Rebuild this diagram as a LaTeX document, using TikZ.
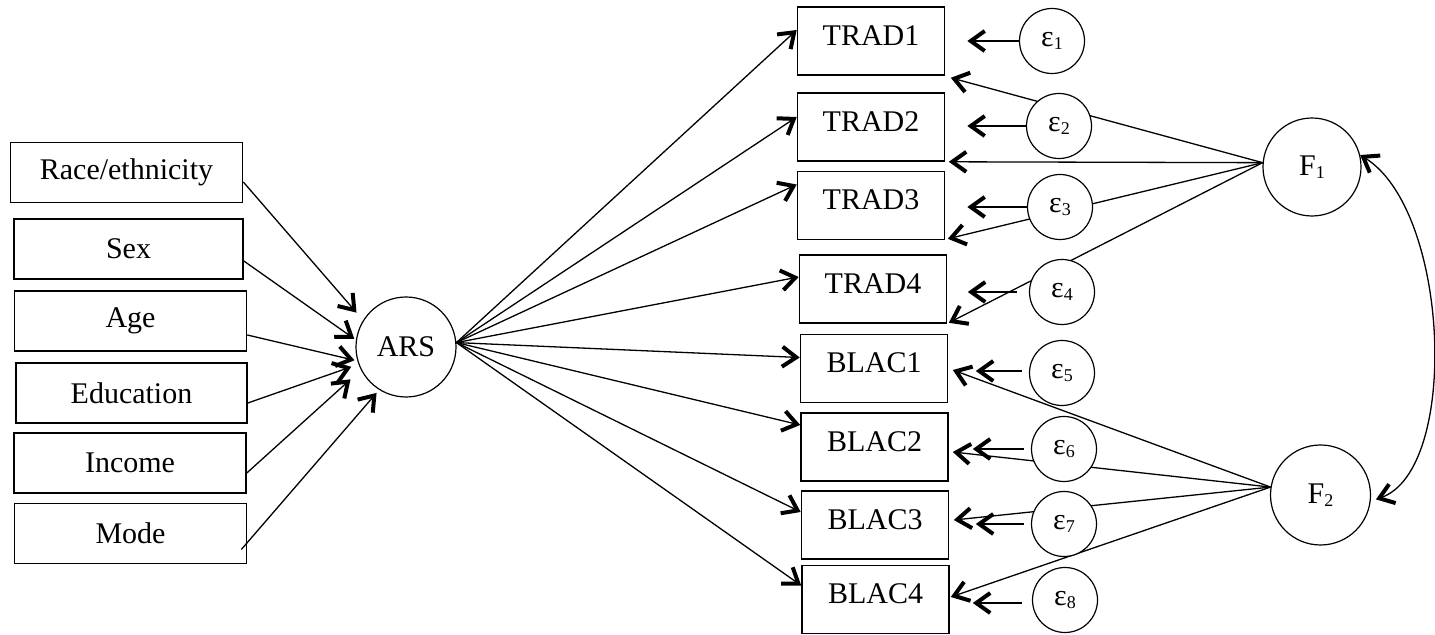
\documentclass[tikz,border=0pt]{standalone}
\usepackage{fontspec}
\setmainfont{Liberation Serif}
\usetikzlibrary{arrows.meta,backgrounds}
\newcommand\lowsub[1]{\raisebox{-1.5pt}{\fontsize{9}{9}\selectfont #1}}
\begin{document}
\begin{tikzpicture}[x=0.5pt,y=-0.5pt,
  font=\fontsize{15}{18}\selectfont,
  inbox/.style={draw, line width=0.8pt, minimum width=116pt, minimum height=30pt, inner sep=0pt},
  outbox/.style={draw, line width=0.8pt, minimum width=73.5pt, minimum height=34pt, inner sep=0pt, text depth=5.5pt},
  latent/.style={draw, circle, line width=0.6pt, fill=white, inner sep=0pt},
  errc/.style={latent, minimum size=32.5pt},
  tipb/.tip={Straight Barb[length=7pt,width=10pt,line width=2pt]},
  arr/.style={line width=0.65pt, -tipb},
  dbl/.style={line width=0.65pt, tipb-tipb}
]
\useasboundingbox (0,0) rectangle (1435,635);

% exogenous boxes
\node[inbox] (race) at (126.5,172.5) {Race/ethnicity};
\node[inbox, minimum width=114.5pt] (sex) at (128.5,249) {Sex};
\node[inbox] (age) at (130.5,321) {Age};
\node[inbox, minimum width=115.5pt] (edu) at (131.5,393) {Education};
\node[inbox] (inc) at (130,463) {Income};
\node[inbox] (mode) at (130.5,533.5) {Mode};

% ARS
\node[latent, minimum size=50pt] (ARS) at (406,347) {ARS};

% indicator boxes
\node[outbox] (TRAD1) at (871,41) {TRAD1};
\node[outbox] (TRAD2) at (871,127) {TRAD2};
\node[outbox] (TRAD3) at (871,205.5) {TRAD3};
\node[outbox] (TRAD4) at (873,289) {TRAD4};
\node[outbox] (BLAC1) at (874,368.5) {BLAC1};
\node[outbox] (BLAC2) at (874.5,447) {BLAC2};
\node[outbox] (BLAC3) at (875,525) {BLAC3};
\node[outbox] (BLAC4) at (875.5,599.5) {BLAC4};

% error terms
\node[errc] (e1) at (1052,41) {ε\lowsub{1}};
\node[errc] (e2) at (1059,126) {ε\lowsub{2}};
\node[errc] (e3) at (1060,207) {ε\lowsub{3}};
\node[errc] (e4) at (1062,292) {ε\lowsub{4}};
\node[errc] (e5) at (1062,373) {ε\lowsub{5}};
\node[errc] (e6) at (1064,449) {ε\lowsub{6}};
\node[errc] (e7) at (1064,524) {ε\lowsub{7}};
\node[errc] (e8) at (1065,600) {ε\lowsub{8}};

% factors
\node[latent, minimum size=49pt] (F1) at (1312,167) {F\lowsub{1}};
\node[latent, minimum size=50pt] (F2) at (1320.5,495) {F\lowsub{2}};

% covariates -> ARS
\draw[arr, shorten >=5pt] ([yshift=-4.75pt]race.east) -- (ARS.148);
\draw[arr, shorten >=1pt] ([yshift=-6pt]sex.east) -- (ARS.172);
\draw[arr, shorten >=1.5pt] ([yshift=-7pt]age.east) -- (ARS.196);
\draw[arr, shorten >=3.8pt] ([yshift=-5pt]edu.east) -- (ARS.200);
\draw[arr, shorten >=7pt] ([yshift=-5pt]inc.east) -- (ARS.207);
\draw[arr, shorten >=2pt] ([xshift=-3pt,yshift=-8pt]mode.east) -- (ARS.238);

% ARS -> indicators
\draw[arr] (ARS.5) -- ([yshift=5.5pt]TRAD1.west);
\draw[arr] (ARS.5) -- ([yshift=5pt]TRAD2.west);
\draw[arr] (ARS.5) -- ([yshift=10.5pt]TRAD3.west);
\draw[arr] (ARS.5) -- ([yshift=6pt]TRAD4.west);
\draw[arr] (ARS.5) -- ([yshift=5.5pt]BLAC1.west);
\draw[arr] (ARS.5) -- ([yshift=11pt]BLAC2.west);
\draw[arr] (ARS.5) -- ([yshift=6.5pt]BLAC3.west);
\draw[arr] (ARS.5) -- ([yshift=7pt]BLAC4.west);

% error tips
\coordinate (t1) at ([xshift=11pt]TRAD1.east);
\coordinate (t2) at ([xshift=11pt]TRAD2.east);
\coordinate (t3) at ([xshift=11pt]TRAD3.east);
\coordinate (t4) at ([xshift=10.25pt]TRAD4.east);
\coordinate (t5) at ([xshift=13.75pt]BLAC1.east);
\coordinate (t6) at ([xshift=12pt]BLAC2.east);
\coordinate (t7) at ([xshift=13.25pt]BLAC3.east);
\coordinate (t8) at ([xshift=11.5pt]BLAC4.east);
\coordinate (s5) at ([yshift=1pt]e5.west);
\coordinate (s8) at ([yshift=-1.5pt]e8.west);

\draw[arr] (e1.west) -- (t1 |- e1.west);
\draw[arr] (e2.west) -- (t2 |- e2.west);
\draw[arr] (e3.west) -- (t3 |- e3.west);
\draw[arr, shorten <=6pt] (e4.west) -- (t4 |- e4.west);
\draw[arr, shorten <=3.5pt] (s5) -- (t5 |- s5);
\draw[arr, shorten <=3.5pt] (e6.west) -- (t6 |- e6.west);
\draw[arr, shorten <=3.5pt] (e7.west) -- (t7 |- e7.west);
\draw[arr, shorten <=5pt] (s8) -- (t8 |- s8);

% factor loadings (behind the error circles)
\begin{pgfonlayer}{background}
\fill[white] (0,0) rectangle (1435,635);
\draw[arr] (F1.175) -- ([shift={(5.5,2)}]TRAD1.south east);
\draw[arr] (F1.175) -- ([shift={(3.5,0)}]TRAD2.south east);
\draw[arr] (F1.175) -- ([shift={(2.5,-1.5)}]TRAD3.south east);
\draw[arr] (F1.175) -- ([shift={(1.5,-1)}]TRAD4.south east);
\draw[arr] (F2.171) -- ([shift={(4.5,1.5)}]BLAC1.east);
\draw[arr] (F2.171) -- ([shift={(4,5)}]BLAC2.east);
\draw[arr] (F2.171) -- ([shift={(4.5,-5)}]BLAC3.east);
\draw[arr] (F2.171) -- ([shift={(1,-2.5)}]BLAC4.east);
\end{pgfonlayer}

% factor covariance
\draw[dbl] (F1.14) .. controls (1450,210) and (1460,470) .. ([xshift=2.5pt]F2.-5);
\end{tikzpicture}
\end{document}
